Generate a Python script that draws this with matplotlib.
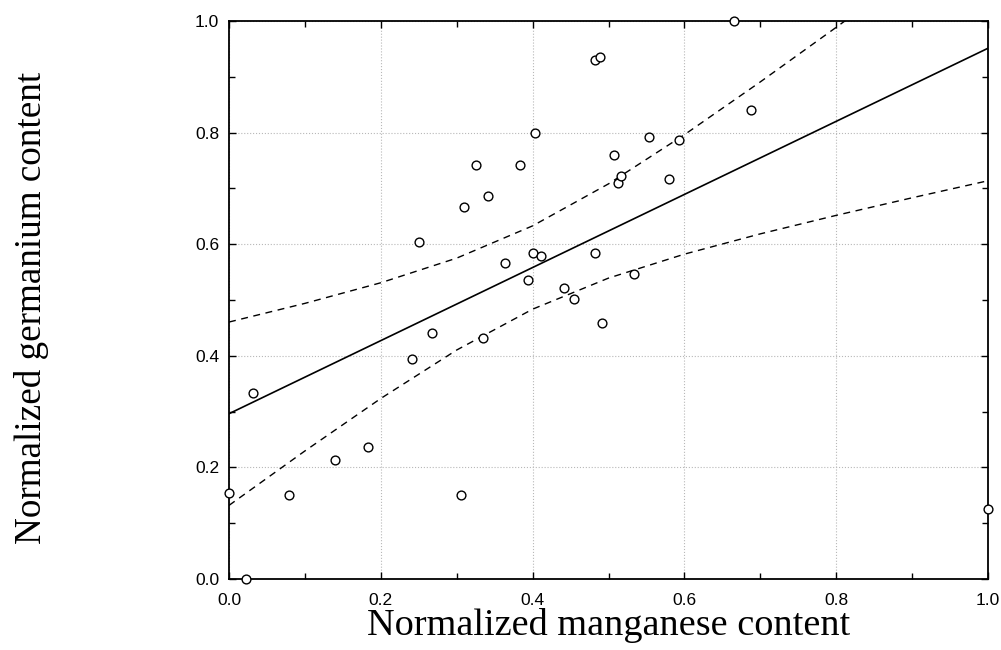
import numpy as np
import matplotlib
matplotlib.use('Agg')
import matplotlib.pyplot as plt
from matplotlib.ticker import MultipleLocator

# normalized contents
mn = [0.000, 0.022, 0.031, 0.079, 0.139, 0.183, 0.241, 0.250, 0.268, 0.305,
      0.309, 0.325, 0.334, 0.341, 0.363, 0.383, 0.394, 0.400, 0.403, 0.411,
      0.442, 0.455, 0.482, 0.489, 0.482, 0.491, 0.507, 0.513, 0.516, 0.533,
      0.553, 0.580, 0.593, 0.666, 0.688, 1.000]
ge = [0.155, 0.000, 0.334, 0.151, 0.213, 0.237, 0.395, 0.604, 0.440, 0.151,
      0.666, 0.742, 0.432, 0.686, 0.567, 0.742, 0.535, 0.584, 0.799, 0.579,
      0.522, 0.502, 0.930, 0.935, 0.584, 0.458, 0.760, 0.710, 0.723, 0.547,
      0.792, 0.717, 0.787, 1.000, 0.841, 0.126]

x = np.array(mn)
y = np.array(ge)
n = len(x)

# linear fit with 95% confidence band of the mean
slope, intercept = np.polyfit(x, y, 1)
resid = y - (intercept + slope * x)
s = np.sqrt(np.sum(resid ** 2) / (n - 2))
sxx = np.sum((x - x.mean()) ** 2)
t = 2.032  # t(0.975, 34)
xg = np.linspace(0, 1, 11)
yg = intercept + slope * xg
half = t * s * np.sqrt(1.0 / n + (xg - x.mean()) ** 2 / sxx)

fig = plt.figure(figsize=(10.01, 6.5), dpi=100)
ax = fig.add_axes([0.2288, 0.1092, 0.7582, 0.8585])

ax.grid(True, color='#b8b8b8', linestyle=':', linewidth=0.8)
ax.set_axisbelow(True)

ax.plot(xg, yg, color='black', linewidth=1.2)
ax.plot(xg, yg + half, color='black', linewidth=1.0, dashes=(5, 4))
ax.plot(xg, yg - half, color='black', linewidth=1.0, dashes=(5, 4))
ax.scatter(x, y, s=40, facecolors='white', edgecolors='black', linewidths=1.0,
           zorder=3, clip_on=False)

ax.set_xlim(0, 1)
ax.set_ylim(0, 1)
ax.xaxis.set_major_locator(MultipleLocator(0.2))
ax.yaxis.set_major_locator(MultipleLocator(0.2))
ax.xaxis.set_minor_locator(MultipleLocator(0.1))
ax.yaxis.set_minor_locator(MultipleLocator(0.1))
ax.tick_params(which='both', direction='in', top=True, right=True, width=1.0)
ax.tick_params(which='major', length=5)
ax.tick_params(which='minor', length=4)
ax.tick_params(axis='x', which='major', pad=10)
ax.tick_params(axis='y', which='major', pad=7)
for lab in ax.get_xticklabels() + ax.get_yticklabels():
    lab.set_family(['Liberation Sans Narrow', 'Liberation Sans', 'DejaVu Sans'])
    lab.set_fontsize(12.5)
for sp in ax.spines.values():
    sp.set_linewidth(1.3)

ax.set_xlabel('Normalized manganese content', family='Liberation Serif',
              fontsize=27.5, labelpad=0)
fig.text(0.031, 0.527, 'Normalized germanium content', family='Liberation Serif',
         fontsize=26.7, rotation=90, ha='center', va='center')

fig.savefig('out.png', dpi=100)
